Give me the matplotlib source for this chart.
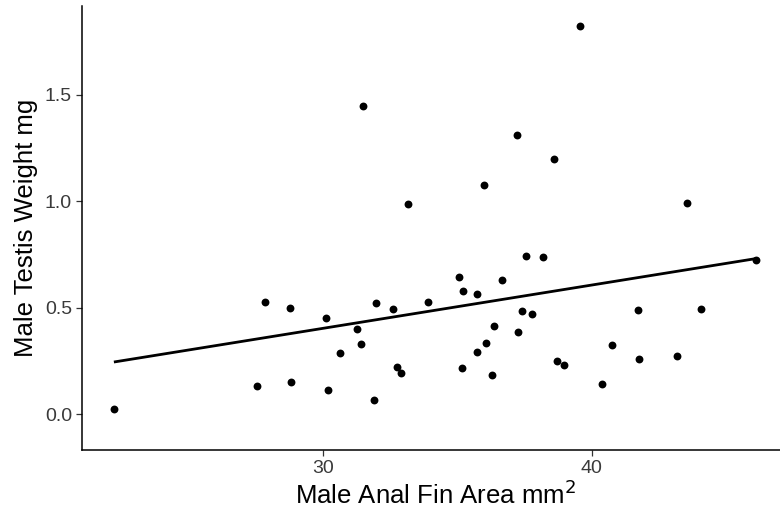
import numpy as np
import matplotlib
matplotlib.use("Agg")
import matplotlib.pyplot as plt

plt.rcParams['font.family'] = ['Liberation Sans', 'DejaVu Sans']

fin_area = [31.49, 33.16, 39.55, 37.21, 38.60, 35.99, 43.53, 22.20, 27.83, 28.77,
            30.09, 31.95, 32.59, 33.88, 31.27, 31.41, 30.63, 32.73, 32.88, 27.54,
            28.79, 30.19, 31.87, 35.07, 35.19, 35.74, 36.64, 37.53, 38.19, 37.41,
            37.77, 36.37, 37.25, 36.04, 35.74, 35.15, 36.27, 38.72, 38.98, 40.36,
            40.74, 41.73, 41.75, 43.19, 44.06, 46.13]
testis_wt = [1.448, 0.987, 1.824, 1.313, 1.199, 1.078, 0.993, 0.025, 0.528, 0.500,
             0.451, 0.523, 0.492, 0.528, 0.400, 0.331, 0.285, 0.220, 0.194, 0.133,
             0.150, 0.114, 0.066, 0.644, 0.577, 0.564, 0.630, 0.743, 0.738, 0.486,
             0.472, 0.414, 0.386, 0.334, 0.291, 0.215, 0.182, 0.248, 0.229, 0.141,
             0.324, 0.490, 0.257, 0.271, 0.492, 0.724]

x_ticks = [30, 40]
y_ticks = [0.0, 0.5, 1.0, 1.5]
y_tick_labels = ["0.0", "0.5", "1.0", "1.5"]

x = np.array(fin_area)
y = np.array(testis_wt)

fig = plt.figure(figsize=(7.8, 5.2), dpi=100)
ax = fig.add_axes([0.1047, 0.1346, 0.9064, 0.8546])

ax.scatter(x, y, s=32, color='black', linewidths=0, zorder=3)

slope, intercept = np.polyfit(x, y, 1)
xs = np.array([x.min(), x.max()])
ax.plot(xs, intercept + slope * xs, color='black', lw=2.0, zorder=2,
        solid_capstyle='butt')

ax.set_xlim(21.0, 47.33)
ax.set_ylim(-0.169, 1.92)

ax.set_xticks(x_ticks)
ax.set_xticklabels([str(t) for t in x_ticks])
ax.set_yticks(y_ticks)
ax.set_yticklabels(y_tick_labels)

for s in ['top', 'right']:
    ax.spines[s].set_visible(False)
for s in ['left', 'bottom']:
    ax.spines[s].set_linewidth(1.1)
    ax.spines[s].set_color('black')

ax.tick_params(axis='both', length=4, width=0.9, color='#333333',
               labelsize=14, labelcolor='#3A3A3A', pad=3)

ax.set_xlabel("Male Anal Fin Area mm$^2$", fontsize=18.5, labelpad=3)
ax.set_ylabel("Male Testis Weight mg", fontsize=18.5, labelpad=5)

fig.savefig("out.png", dpi=100)
